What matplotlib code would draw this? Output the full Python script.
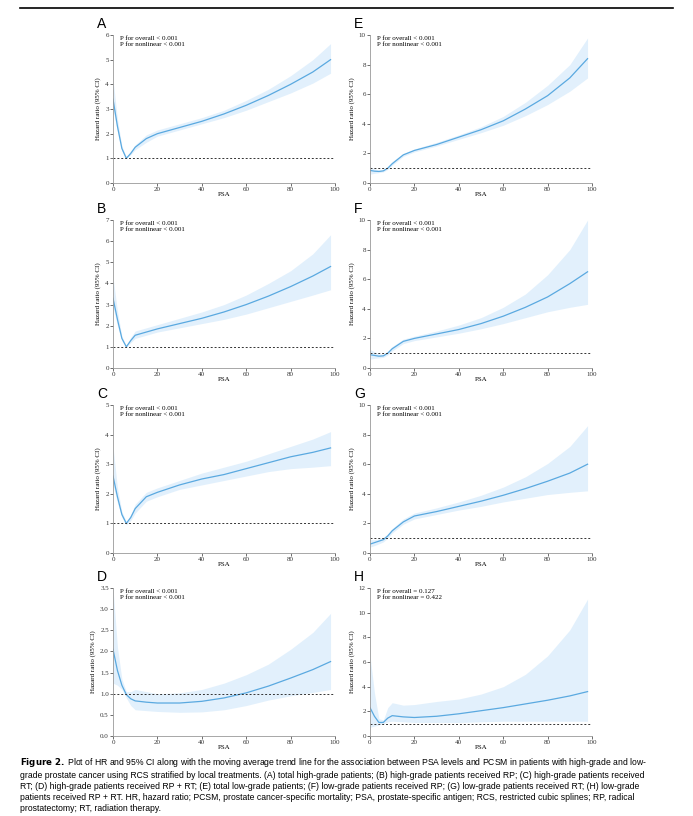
import matplotlib.pyplot as plt
from matplotlib.lines import Line2D

# PSA grid used for every panel
psa = [0, 2, 4, 6, 8, 10, 15, 20, 30, 40, 50, 60, 70, 80, 90, 98]

# A total high-grade
a_hr = [3.4, 2.3, 1.4, 1.0, 1.2, 1.45, 1.8, 2.0, 2.25, 2.5, 2.8, 3.15, 3.55, 4.0, 4.5, 5.0]
a_lo = [3.0, 2.1, 1.3, 1.0, 1.15, 1.35, 1.65, 1.9, 2.15, 2.4, 2.65, 2.95, 3.3, 3.65, 4.05, 4.45]
a_hi = [4.2, 2.6, 1.5, 1.05, 1.3, 1.55, 1.95, 2.15, 2.4, 2.65, 2.95, 3.35, 3.8, 4.35, 5.0, 5.65]
# B high-grade RP
b_hr = [3.3, 2.3, 1.4, 1.0, 1.3, 1.55, 1.7, 1.85, 2.1, 2.35, 2.65, 3.0, 3.4, 3.85, 4.35, 4.8]
b_lo = [2.9, 2.0, 1.3, 1.0, 1.2, 1.4, 1.55, 1.7, 1.9, 2.1, 2.3, 2.55, 2.85, 3.15, 3.45, 3.7]
b_hi = [4.3, 2.7, 1.5, 1.05, 1.45, 1.75, 1.9, 2.05, 2.35, 2.65, 3.0, 3.45, 4.0, 4.6, 5.4, 6.3]
# C high-grade RT
c_hr = [2.6, 1.9, 1.3, 1.0, 1.2, 1.5, 1.9, 2.05, 2.3, 2.5, 2.65, 2.85, 3.05, 3.25, 3.4, 3.55]
c_lo = [2.3, 1.7, 1.2, 0.95, 1.1, 1.35, 1.75, 1.9, 2.15, 2.3, 2.45, 2.6, 2.75, 2.85, 2.9, 2.95]
c_hi = [3.6, 2.2, 1.4, 1.05, 1.3, 1.65, 2.05, 2.2, 2.45, 2.7, 2.9, 3.1, 3.35, 3.6, 3.85, 4.1]
# D high-grade RP + RT
d_hr = [2.05, 1.55, 1.2, 0.98, 0.88, 0.83, 0.8, 0.78, 0.78, 0.82, 0.9, 1.02, 1.18, 1.37, 1.57, 1.76]
d_lo = [1.25, 1.2, 1.1, 0.9, 0.72, 0.62, 0.6, 0.58, 0.56, 0.57, 0.62, 0.72, 0.85, 0.95, 1.03, 1.1]
d_hi = [3.5, 2.1, 1.35, 1.05, 1.05, 1.1, 1.05, 1.0, 1.02, 1.1, 1.25, 1.45, 1.7, 2.05, 2.45, 2.9]
# E total low-grade
e_hr = [0.85, 0.8, 0.78, 0.82, 1.0, 1.3, 1.9, 2.2, 2.6, 3.1, 3.6, 4.2, 5.0, 5.9, 7.1, 8.4]
e_lo = [0.6, 0.65, 0.7, 0.75, 0.92, 1.2, 1.8, 2.1, 2.5, 2.95, 3.4, 3.9, 4.55, 5.3, 6.2, 7.1]
e_hi = [1.1, 0.95, 0.88, 0.9, 1.1, 1.45, 2.0, 2.3, 2.75, 3.25, 3.8, 4.5, 5.45, 6.6, 8.0, 9.8]
# F low-grade RP
f_hr = [0.9, 0.85, 0.8, 0.82, 1.0, 1.3, 1.8, 2.0, 2.3, 2.6, 3.0, 3.5, 4.1, 4.8, 5.7, 6.5]
f_lo = [0.6, 0.65, 0.68, 0.72, 0.88, 1.15, 1.65, 1.85, 2.1, 2.35, 2.65, 3.0, 3.4, 3.8, 4.1, 4.3]
f_hi = [1.25, 1.1, 0.95, 0.95, 1.15, 1.45, 1.95, 2.15, 2.5, 2.9, 3.4, 4.1, 5.0, 6.3, 8.0, 10.0]
# G low-grade RT
g_hr = [0.6, 0.7, 0.8, 0.9, 1.15, 1.5, 2.1, 2.5, 2.8, 3.15, 3.5, 3.9, 4.35, 4.85, 5.4, 6.0]
g_lo = [0.4, 0.5, 0.62, 0.75, 1.0, 1.35, 1.95, 2.3, 2.6, 2.9, 3.15, 3.45, 3.7, 3.95, 4.1, 4.2]
g_hi = [0.9, 0.9, 0.95, 1.05, 1.3, 1.65, 2.3, 2.7, 3.05, 3.45, 3.9, 4.45, 5.15, 6.05, 7.2, 8.6]
# H low-grade RP + RT
h_hr = [2.3, 1.6, 1.1, 1.1, 1.45, 1.65, 1.55, 1.5, 1.6, 1.8, 2.05, 2.3, 2.6, 2.9, 3.25, 3.6]
h_lo = [0.7, 0.8, 0.9, 1.0, 1.15, 1.2, 1.15, 1.1, 1.1, 1.1, 1.15, 1.2, 1.2, 1.2, 1.2, 1.2]
h_hi = [6.5, 3.5, 1.4, 1.3, 2.3, 2.7, 2.5, 2.55, 2.8, 3.0, 3.4, 4.0, 5.0, 6.5, 8.6, 11.1]

panels = [
    ("A", a_hr, a_lo, a_hi, 6, list(range(0, 7)), "{:g}", "< 0.001", "< 0.001"),
    ("E", e_hr, e_lo, e_hi, 10, list(range(0, 11, 2)), "{:g}", "< 0.001", "< 0.001"),
    ("B", b_hr, b_lo, b_hi, 7, list(range(0, 8)), "{:g}", "< 0.001", "< 0.001"),
    ("F", f_hr, f_lo, f_hi, 10, list(range(0, 11, 2)), "{:g}", "< 0.001", "< 0.001"),
    ("C", c_hr, c_lo, c_hi, 5, list(range(0, 6)), "{:g}", "< 0.001", "< 0.001"),
    ("G", g_hr, g_lo, g_hi, 10, list(range(0, 11, 2)), "{:g}", "< 0.001", "< 0.001"),
    ("D", d_hr, d_lo, d_hi, 3.5, [0, 0.5, 1, 1.5, 2, 2.5, 3, 3.5], "{:.1f}", "< 0.001", "< 0.001"),
    ("H", h_hr, h_lo, h_hi, 12, list(range(0, 13, 2)), "{:g}", "= 0.127", "= 0.422"),
]

W, H = 693, 816
fig = plt.figure(figsize=(W / 100, H / 100), dpi=100)
serif = ["Liberation Serif", "DejaVu Serif"]
sans = ["Liberation Sans", "DejaVu Sans"]

fig.add_artist(Line2D([20 / W, 673 / W], [1 - 8 / H, 1 - 8 / H], color="black", lw=1.2))

col_x = [113, 370]
row_y = [35, 220, 405, 588]
aw, ah = 222, 148

for i, (letter, hr, lo, hi, ymax, ticks, fmt, p1, p2) in enumerate(panels):
    x0 = col_x[i % 2]
    y0 = row_y[i // 2]
    ax = fig.add_axes([x0 / W, 1 - (y0 + ah) / H, aw / W, ah / H])
    ax.fill_between(psa, lo, hi, color="#ddeefc", lw=0, alpha=0.85)
    ax.plot(psa, hr, color="#5aa9e0", lw=0.9)
    ax.axhline(1, color="#333333", ls=(0, (2, 2)), lw=0.7)
    ax.set_xlim(0, 100)
    ax.set_ylim(0, ymax)
    ax.set_xticks([0, 20, 40, 60, 80, 100])
    ax.set_yticks(ticks)
    ax.set_yticklabels([fmt.format(t) for t in ticks])
    for s in ["top", "right"]:
        ax.spines[s].set_visible(False)
    for s in ["left", "bottom"]:
        ax.spines[s].set_color("#999999")
        ax.spines[s].set_linewidth(0.6)
    ax.tick_params(labelsize=5, length=2, width=0.5, colors="#333333", pad=1)
    for lab in ax.get_xticklabels() + ax.get_yticklabels():
        lab.set_family(serif)
    ax.set_xlabel("PSA", fontsize=5, family=serif, labelpad=0)
    ax.set_ylabel("Hazard ratio (95% CI)", fontsize=5, family=serif, labelpad=3)
    ax.text(0.03, 0.99, f"P for overall {p1}\nP for nonlinear {p2}", transform=ax.transAxes,
            fontsize=5, family=serif, va="top", linespacing=1.1)
    fig.text((x0 - 16) / W, 1 - (y0 - 4) / H, letter, fontsize=10, family=sans, va="bottom")

caption = ("$\\bf{Figure\\ 2.}$ Plot of HR and 95% CI along with the moving average trend line for the association between PSA levels and PCSM in patients with high-grade and low-\n"
           "grade prostate cancer using RCS stratified by local treatments. (A) total high-grade patients; (B) high-grade patients received RP; (C) high-grade patients received\n"
           "RT; (D) high-grade patients received RP + RT; (E) total low-grade patients; (F) low-grade patients received RP; (G) low-grade patients received RT; (H) low-grade\n"
           "patients received RP + RT. HR, hazard ratio; PCSM, prostate cancer-specific mortality; PSA, prostate-specific antigen; RCS, restricted cubic splines; RP, radical\n"
           "prostatectomy; RT, radiation therapy.")
fig.text(20 / W, 1 - 756 / H, caption, fontsize=6.2, family=sans, va="top", linespacing=1.3)

fig.savefig("out.png", dpi=100)
